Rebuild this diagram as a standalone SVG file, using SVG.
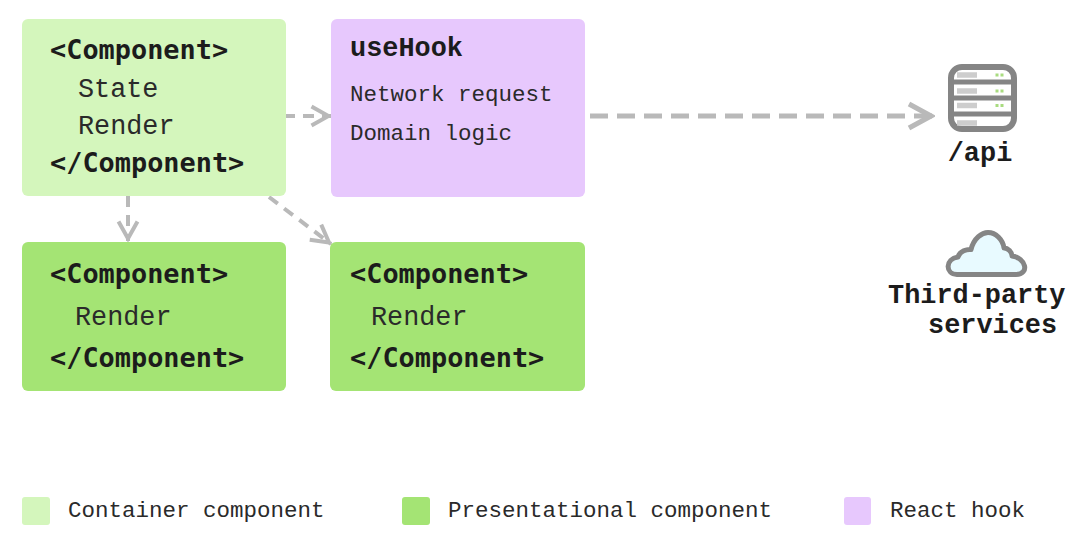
<svg xmlns="http://www.w3.org/2000/svg" width="1075" height="554" viewBox="0 0 1075 554">
<defs>
<marker id="ah" viewBox="0 0 22 24" refX="21" refY="12" markerWidth="22" markerHeight="24" markerUnits="userSpaceOnUse" orient="auto"><path d="M1.500 2.500L18.500 12L1.500 21.500" fill="none" stroke="#b9b9b9" stroke-width="4"/></marker>
<marker id="ahl" viewBox="0 0 28 30" refX="27" refY="15" markerWidth="28" markerHeight="30" markerUnits="userSpaceOnUse" orient="auto"><path d="M2 3L24 15L2 27" fill="none" stroke="#b9b9b9" stroke-width="5"/></marker>
</defs>
<style>
text{font-family:"DejaVu Sans Mono","Liberation Mono",monospace;fill:#1c1c1c}
.b{font-weight:700;font-size:26.9px}
.m{font-family:"Liberation Mono",monospace}
.r{font-family:"Liberation Mono",monospace;font-size:22.5px;fill:#2a2a2a}
.l{font-size:26.8px}
.c{fill:none;stroke:#b9b9b9;stroke-width:4;stroke-dasharray:11 8}
.s{fill:#d4f6bc}.p{fill:#a4e474}.h{fill:#e7c8fd}
</style>
<rect width="1075" height="554" fill="#fff"/>
<g id="connectors">
<path class="c" d="M284 116H331" marker-end="url(#ah)"/>
<path class="c" d="M128 196V241" marker-end="url(#ah)"/>
<path class="c" d="M269 197L331 244" marker-end="url(#ah)"/>
<path class="c" style="stroke-width:5;stroke-dasharray:18 9" d="M590 116H934" marker-end="url(#ahl)"/>
</g>
<g id="container">
<rect class="s" x="22" y="19" width="264" height="177" rx="6"/>
<text class="b" x="50" y="59">&lt;Component&gt;</text>
<text class="r l" x="78" y="97">State</text>
<text class="r l" x="78" y="134">Render</text>
<text class="b" x="50" y="172">&lt;/Component&gt;</text>
</g>
<g id="hook">
<rect class="h" x="331" y="19" width="254" height="178" rx="6"/>
<text class="b m" x="350" y="56">useHook</text>
<text class="r" x="350" y="101">Network request</text>
<text class="r" x="350" y="140">Domain logic</text>
</g>
<g id="pres1">
<rect class="p" x="22" y="242" width="264" height="149" rx="6"/>
<text class="b" x="50" y="283">&lt;Component&gt;</text>
<text class="r l" x="75" y="325">Render</text>
<text class="b" x="50" y="367">&lt;/Component&gt;</text>
</g>
<g id="pres2">
<rect class="p" x="330" y="242" width="255" height="149" rx="6"/>
<text class="b" x="350" y="283">&lt;Component&gt;</text>
<text class="r l" x="371" y="325">Render</text>
<text class="b" x="350" y="367">&lt;/Component&gt;</text>
</g>
<g id="api">
<rect x="951" y="67" width="63" height="62" rx="11" fill="#fff" stroke="#858585" stroke-width="6"/>
<path d="M948 82H1017M948 98H1017M948 114H1017" stroke="#858585" stroke-width="5"/>
<path d="M957 75H977M957 91H977M957 105.500H977M957 123H977" stroke="#cdcdcd" stroke-width="5.500"/>
<path d="M995.500 75h3M1000.500 75h3M995.500 91h3M1000.500 91h3M995.500 105.500h3M1000.500 105.500h3" stroke="#a9dc80" stroke-width="3"/>
<text class="b m" x="980" y="161" text-anchor="middle">/api</text>
</g>
<g id="cloud">
<path d="M957 274.500C945 274 945 259 958 257C960 251 967 249 971 249.500C974 238 982 232.500 988 232.500C996 232.500 1003 240 1004 248C1008 248 1012 252 1012 256C1026 258 1030 274 1016 274.500Z" fill="#e8faff" stroke="#858585" stroke-width="5" stroke-linejoin="round"/>
<text class="b m" x="888" y="303">Third-party</text>
<text class="b m" x="928" y="333">services</text>
</g>
<g id="legend">
<rect class="s" x="22" y="497" width="28" height="28" rx="3"/>
<text class="r" x="68" y="517">Container component</text>
<rect class="p" x="402" y="497" width="28" height="28" rx="3"/>
<text class="r" x="448" y="517">Presentational component</text>
<rect class="h" x="844" y="497" width="27" height="28" rx="3"/>
<text class="r" x="890" y="517">React hook</text>
</g>
</svg>
